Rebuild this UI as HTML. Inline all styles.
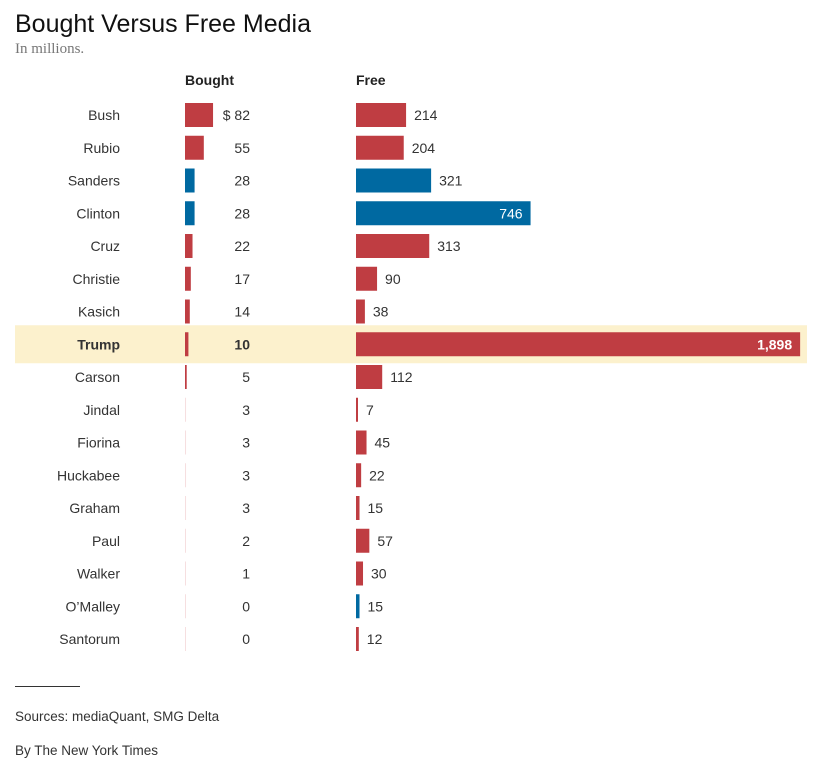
<!DOCTYPE html>
<html><head><meta charset="utf-8">
<style>
body{margin:0;width:816px;height:759px;background:#fff;font-family:"Liberation Sans",sans-serif;color:#333;position:relative;overflow:hidden}
.t{position:absolute;white-space:nowrap}
</style></head><body>
<div class="t" style="left:15px;top:10px;font-size:25px;color:#111">Bought Versus Free Media</div>
<div class="t" style="left:15px;top:41px;font-size:15px;color:#777;font-family:'Liberation Serif',serif">In millions.</div>
<div class="t" style="left:185px;top:72px;font-size:14px;font-weight:bold;color:#222">Bought</div>
<div class="t" style="left:356px;top:72px;font-size:14px;font-weight:bold;color:#222">Free</div>
<svg id="chart" width="816" height="680" style="position:absolute;left:0;top:0"></svg>
<div class="t" style="left:15px;top:686px;width:65px;height:1px;background:#333"></div>
<div class="t" style="left:15px;top:709px;font-size:13.5px">Sources: mediaQuant, SMG Delta</div>
<div class="t" style="left:15px;top:743px;font-size:13.5px">By The New York Times</div>
<script>
const candidates=["Bush","Rubio","Sanders","Clinton","Cruz","Christie","Kasich","Trump","Carson","Jindal","Fiorina","Huckabee","Graham","Paul","Walker","O’Malley","Santorum"];
const bought=[82,55,28,28,22,17,14,10,5,3,3,3,3,2,1,0,0];
const free=[214,204,321,746,313,90,38,1898,112,7,45,22,15,57,30,15,12];
const party=["R","R","D","D","R","R","R","R","R","R","R","R","R","R","R","D","R"];
const highlight="Trump";
const svg=document.getElementById('chart');
const NS="http://www.w3.org/2000/svg";
const bx=v=>v*0.342, fx=v=>v*0.234;
const rowY=i=>115+i*32.75;
function mk(tag,attrs){const e=document.createElementNS(NS,tag);for(const k in attrs)e.setAttribute(k,attrs[k]);svg.appendChild(e);return e;}
candidates.forEach((c,i)=>{
  const y=rowY(i), hl=c===highlight, col=party[i]==="D"?"#0069a1":"#bf3d42";
  if(hl){const r=mk('rect',{x:15,y:y-19,width:792,height:38,fill:'#fcf1cd'});
    
    }
  const n=mk('text',{x:120,y:y+5,'text-anchor':'end','font-size':14,fill:'#333','font-weight':hl?'bold':'normal'});n.textContent=c;
  
  
  const bw=bx(bought[i]);
  const b=mk('rect',{x:185,y:y-12,width:Math.max(bw,1),height:24,fill:bought[i]<5?'#f6dfe0':col});
  
  
  const bv=mk('text',{x:250,y:y+5,'text-anchor':'end','font-size':14,fill:'#333','font-weight':hl?'bold':'normal'});bv.textContent=(i===0?'$ ':'')+bought[i];
  
  
  const fw=fx(free[i]);
  const f=mk('rect',{x:356,y:y-12,width:Math.max(fw,2),height:24,fill:col});
  
  
  const inside=fw>150;
  const fv=mk('text',{x:inside?356+fw-8:356+Math.max(fw,2)+8,y:y+5,'text-anchor':inside?'end':'start','font-size':14,fill:inside?'#fff':'#333','font-weight':hl?'bold':'normal'});
  fv.textContent=free[i].toLocaleString('en-US');
  
  
});
</script>
</body></html>
